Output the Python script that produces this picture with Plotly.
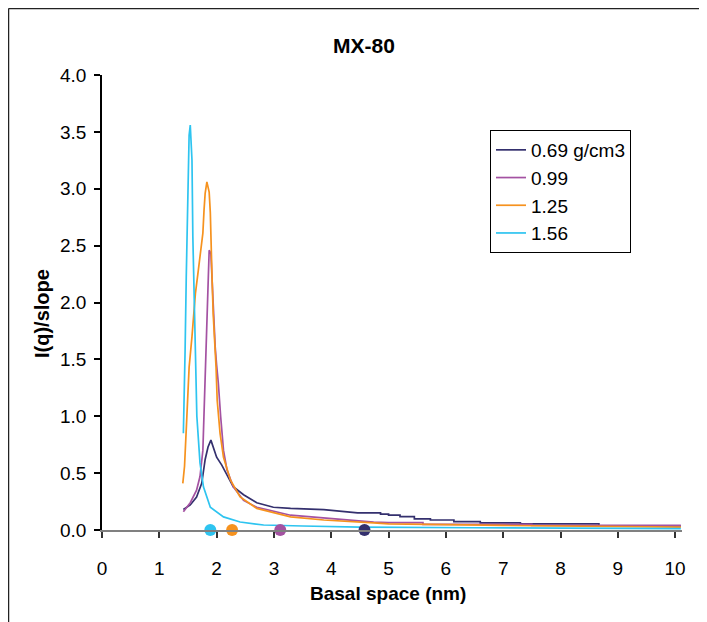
import plotly.graph_objects as go

# ---- data ----
series_names = ["0.69 g/cm3", "0.99", "1.25", "1.56"]
series_colors = ["#34306E", "#A452A2", "#F6921E", "#2EC4F0"]

x_069 = [1.42, 1.54, 1.65, 1.74, 1.80, 1.85, 1.90, 1.94, 2.00, 2.09, 2.18, 2.29, 2.47, 2.70, 2.99,
         3.29, 3.87, 4.46, 4.86, 4.86, 5.00, 5.00, 5.20, 5.20, 5.45, 5.45, 5.73, 5.73, 6.14, 6.14,
         6.60, 6.60, 7.30, 7.30, 8.67, 8.67, 10.10]
y_069 = [0.18, 0.22, 0.29, 0.41, 0.62, 0.73, 0.79, 0.73, 0.64, 0.57, 0.48, 0.38, 0.31, 0.24, 0.20,
         0.19, 0.18, 0.15, 0.15, 0.14, 0.14, 0.13, 0.13, 0.117, 0.117, 0.097, 0.097, 0.088, 0.088, 0.073,
         0.073, 0.062, 0.062, 0.053, 0.053, 0.035, 0.035]

x_099 = [1.42, 1.54, 1.65, 1.71, 1.76, 1.78, 1.80, 1.82, 1.83, 1.85, 1.87, 1.90, 1.92, 1.94, 1.975,
         2.00, 2.03, 2.07, 2.12, 2.18, 2.29, 2.47, 2.70, 3.29, 3.87, 4.74, 5.00, 5.60, 5.60, 7.50, 7.50, 10.10]
y_099 = [0.16, 0.24, 0.35, 0.47, 0.70, 1.00, 1.29, 1.58, 1.85, 2.22, 2.46, 2.43, 2.22, 1.90, 1.61,
         1.45, 1.29, 1.00, 0.70, 0.53, 0.38, 0.26, 0.20, 0.13, 0.105, 0.07, 0.064, 0.064, 0.05, 0.05, 0.04, 0.04]

x_125 = [1.41, 1.44, 1.48, 1.52, 1.57, 1.63, 1.68, 1.72, 1.76, 1.78, 1.80, 1.83, 1.87, 1.89, 1.90,
         1.92, 1.94, 1.975, 1.99, 2.01, 2.06, 2.12, 2.24, 2.41, 2.70, 3.29, 3.87, 4.74, 5.00, 7.00, 10.10]
y_125 = [0.41, 0.56, 0.99, 1.43, 1.70, 2.08, 2.28, 2.46, 2.61, 2.81, 2.96, 3.06, 2.97, 2.79, 2.49,
         2.22, 1.90, 1.61, 1.43, 1.14, 0.85, 0.64, 0.44, 0.29, 0.19, 0.115, 0.088, 0.062, 0.053, 0.04, 0.026]

x_156 = [1.42, 1.43, 1.45, 1.47, 1.50, 1.52, 1.54, 1.57, 1.585, 1.61, 1.63, 1.655, 1.71, 1.77, 1.89,
         2.12, 2.41, 2.82, 3.50, 4.50, 6.50, 8.00, 10.10]
y_156 = [0.85, 1.05, 1.58, 2.22, 2.99, 3.47, 3.56, 3.25, 2.58, 1.90, 1.50, 1.00, 0.59, 0.38, 0.20,
         0.115, 0.07, 0.044, 0.035, 0.025, 0.02, 0.015, 0.012]

# marked basal spacings on the x axis (same order as series)
marker_x = [4.58, 3.11, 2.27, 1.89]
marker_y = [0, 0, 0, 0]

x_ticks = list(range(0, 11))
y_ticks = [0.0, 0.5, 1.0, 1.5, 2.0, 2.5, 3.0, 3.5, 4.0]

FONT = "Liberation Sans, Arial, sans-serif"

# page body has an 8px margin: figure coords = screen coords - 8
W, H = 699, 614
L, R, T, B = 94, 25, 67, 92
PW = W - L - R
PH = H - T - B


def px(sx):
    return (sx - 8 - L) / PW


def py(sy):
    return (H - B - (sy - 8)) / PH


fig = go.Figure()
for name, color, xs, ys in zip(series_names, series_colors,
                               [x_069, x_099, x_125, x_156], [y_069, y_099, y_125, y_156]):
    fig.add_trace(go.Scatter(x=xs, y=ys, mode="lines", name=name,
                             line=dict(color=color, width=1.7)))

fig.add_trace(go.Scatter(x=marker_x, y=marker_y, mode="markers", showlegend=False,
                         marker=dict(color=series_colors, size=12, line=dict(width=0)),
                         cliponaxis=False))

fig.update_layout(
    width=W, height=H,
    margin=dict(l=L, r=R, t=T, b=B),
    paper_bgcolor="white", plot_bgcolor="white",
    font=dict(family=FONT, size=19, color="black"),
    showlegend=True,
    legend=dict(x=px(490), y=py(130), xanchor="left", yanchor="top",
                bordercolor="black", borderwidth=1, bgcolor="white",
                font=dict(family=FONT, size=19, color="black"),
                itemwidth=30, tracegroupgap=0),
    xaxis=dict(range=[0, 10.12], tickvals=x_ticks, ticktext=[str(v) for v in x_ticks],
               showgrid=False, zeroline=False, showline=True, linecolor="#808080", linewidth=1.5,
               ticks="outside", ticklen=6, tickcolor="#333333", tickwidth=1.5,
               ticklabelstandoff=14, tickfont=dict(size=19)),
    yaxis=dict(range=[0, 4], tickvals=y_ticks, ticktext=[f"{v:.1f}" for v in y_ticks],
               showgrid=False, zeroline=False, showline=True, linecolor="black", linewidth=1.5,
               ticks="outside", ticklen=6, tickcolor="black", tickwidth=1.5,
               ticklabelstandoff=4, tickfont=dict(size=19)),
    annotations=[
        dict(text="<b>MX-80</b>", xref="paper", yref="paper",
             x=px(364), y=py(45), xanchor="center", yanchor="middle",
             showarrow=False, font=dict(family=FONT, size=21, color="black")),
        dict(text="<b>Basal space (nm)</b>", xref="paper", yref="paper",
             x=px(388), y=py(593), xanchor="center", yanchor="middle",
             showarrow=False, font=dict(family=FONT, size=19, color="black")),
        dict(text="<b>I(q)/slope</b>", xref="paper", yref="paper", textangle=-90,
             x=px(42), y=py(314), xanchor="center", yanchor="middle",
             showarrow=False, font=dict(family=FONT, size=20, color="black")),
    ],
    shapes=[
        dict(type="line", xref="paper", yref="paper",
             x0=px(8.5), x1=px(720), y0=py(8.5), y1=py(8.5),
             line=dict(color="#222222", width=1.5)),
        dict(type="line", xref="paper", yref="paper",
             x0=px(8.5), x1=px(8.5), y0=py(8.5), y1=py(640),
             line=dict(color="#222222", width=1.5)),
    ],
)

fig.write_html("out.html")
